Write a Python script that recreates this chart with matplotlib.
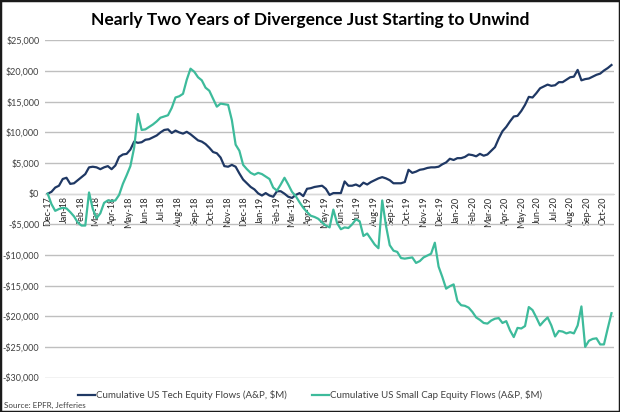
import matplotlib
matplotlib.use("Agg")
import matplotlib.pyplot as plt
import matplotlib.dates as mdates
import matplotlib.ticker as mticker
import pandas as pd

# weekly cumulative flows, $M, starting Fri 1 Dec 2017
start = "2017-12-01"

tech = [
    0, 300, 1000, 1300, 2400, 2600, 1600, 1700, 2200, 2700,
    3200, 4300, 4400, 4300, 4000, 4300, 4500, 4000, 4600, 6000,
    6400, 6500, 7200, 8500, 8300, 8400, 8800, 8900, 9200, 9500,
    10000, 10400, 10500, 9900, 10300, 10000, 9800, 10100, 9700, 9200,
    8700, 8500, 8100, 7500, 6800, 6600, 5900, 4500, 4400, 4700,
    4400, 3300, 2300, 1700, 1100, 700, 50, -300, 100, -300,
    -500, 400, 400, 0, -500, -700, -200, 100, -400, 800,
    900, 1100, 1200, 1300, 800, -200, 100, 100, 100, 2000,
    1300, 1300, 1500, 1200, 1800, 1500, 1900, 2200, 2500, 2700,
    2500, 2200, 1700, 1700, 1700, 1900, 3900, 3400, 3600, 3900,
    4000, 4200, 4300, 4300, 4400, 4800, 5100, 5700, 5500, 5800,
    5800, 6000, 6400, 6300, 6100, 6500, 6200, 6400, 7000, 7600,
    9000, 10200, 10900, 11800, 12600, 12700, 13500, 14500, 15800, 15700,
    16400, 17200, 17500, 17800, 17600, 17700, 18200, 18200, 18600, 19000,
    19100, 20200, 18500, 18700, 18800, 19100, 19400, 19600, 20100, 20500,
    21000,
]

small_cap = [
    0, -1700, -2800, -2500, -2300, -2400, -3000, -3700, -4700, -5200,
    -5200, 200, -2500, -4000, -3200, -1500, -1100, -1200, -1100, -200,
    1600, 3000, 4500, 7500, 13000, 10400, 10500, 10900, 11300, 11800,
    12400, 12600, 12800, 14000, 15700, 15900, 16300, 18600, 20400, 19900,
    19000, 18500, 17300, 16800, 15500, 14200, 14700, 14600, 14500, 12000,
    8000, 7000, 4700, 4000, 3400, 3100, 3400, 3200, 2800, 2400,
    1000, 500, 1500, 2600, 1500, 300, -400, -1400, -2300, -3000,
    -3600, -3800, -4100, -4700, -5200, -5500, -2600, -4800, -5800, -5500,
    -5600, -5000, -4200, -4500, -6900, -6500, -7400, -8300, -8900, -1100,
    -5200, -8400, -9300, -9500, -10500, -10600, -10500, -10400, -11300, -11000,
    -10400, -10100, -9800, -8000, -11900, -13600, -15500, -15100, -14800, -17500,
    -18200, -18300, -18600, -19300, -20200, -20600, -21100, -21200, -20700, -20400,
    -20300, -21100, -20800, -22300, -23400, -21900, -22000, -21600, -18500, -19000,
    -20200, -21500, -20800, -20200, -21500, -23300, -22400, -22500, -22800, -22600,
    -22800, -21500, -18400, -25000, -24000, -23700, -23600, -24600, -24600, -22000,
    -19500,
]

labels = ["Cumulative US Tech Equity Flows (A&P, $M)",
          "Cumulative US Small Cap Equity Flows (A&P, $M)"]
title = "Nearly Two Years of Divergence Just Starting to Unwind"
source = "Source: EPFR, Jefferies"

dates = pd.date_range(start, periods=len(tech), freq="7D")

plt.rcParams["font.family"] = ["Lato", "DejaVu Sans"]

fig = plt.figure(figsize=(6.2, 4.12), dpi=100)
ax = fig.add_axes([0.0726, 0.0837, 0.918, 0.818])

ax.plot(dates, tech, color="#1F3864", lw=1.6, label=labels[0], zorder=3)
ax.plot(dates, small_cap, color="#3DBB9B", lw=1.6, label=labels[1], zorder=3)

ax.set_ylim(-30000, 25000)
ax.set_xlim(pd.Timestamp("2017-11-26"), pd.Timestamp("2020-10-21"))
ax.yaxis.set_major_locator(mticker.MultipleLocator(5000))
ax.yaxis.set_major_formatter(mticker.FuncFormatter(
    lambda v, p: f"-${abs(v):,.0f}" if v < 0 else f"${v:,.0f}"))
ax.grid(axis="y", color="#BFBFBF", lw=1.0, zorder=0)

ax.xaxis.set_major_locator(mdates.MonthLocator())
ax.xaxis.set_major_formatter(mdates.DateFormatter("%b-%y"))
ax.spines["bottom"].set_position(("data", 0))
ax.spines["bottom"].set_color("#D9D9D9")
for s in ["top", "right", "left"]:
    ax.spines[s].set_visible(False)
ax.tick_params(axis="x", length=0, pad=2, labelsize=6.5, labelcolor="#262626",
               labelrotation=90)
ax.tick_params(axis="y", length=0, pad=4, labelsize=6.5, labelcolor="#404040")

fig.text(0.5, 0.951, title, ha="center", va="center", fontsize=12.5,
         fontweight="bold", color="#000000")
fig.legend(loc="center", bbox_to_anchor=(0.5, 0.041), ncol=2, frameon=False,
           fontsize=7, handlelength=1.75, handletextpad=0.05, columnspacing=2.6,
           labelcolor="#404040")
fig.text(0.006, 0.015, source, ha="left", va="center", fontsize=5.8,
         color="#404040")

fig.patches.append(plt.Rectangle((0, 0), 1, 1, transform=fig.transFigure,
                                 fill=False, edgecolor="#1a1a1a", lw=2.5))

fig.savefig("out.png", dpi=100)
